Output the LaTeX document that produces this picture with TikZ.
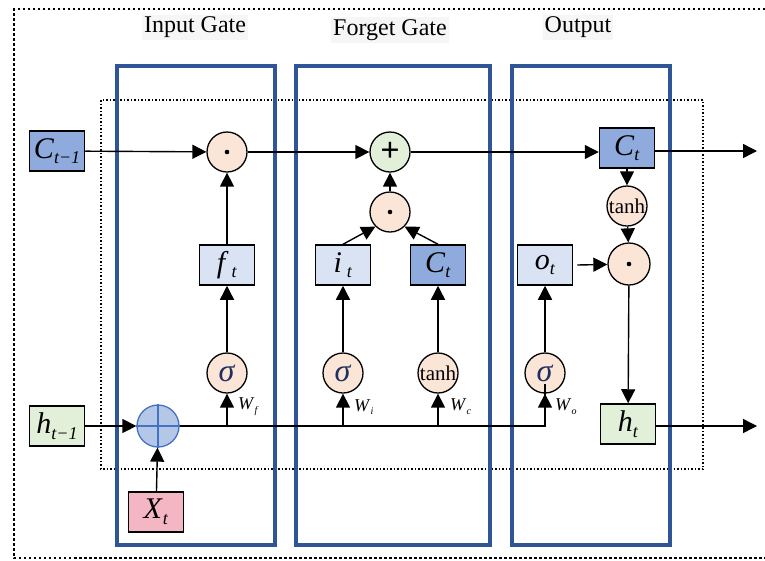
\documentclass[tikz,border=0pt]{standalone}
\usepackage{fontspec}
\setmainfont{Liberation Serif}
\usetikzlibrary{arrows.meta}
\definecolor{cdark}{HTML}{8FAADC}
\definecolor{clight}{HTML}{DAE3F3}
\definecolor{cpeach}{HTML}{FBE5D6}
\definecolor{cgreen}{HTML}{E2F0D9}
\definecolor{cpink}{HTML}{F4B6C2}
\definecolor{cplusf}{HTML}{B4C7E7}
\definecolor{cpluss}{HTML}{4472C4}
\definecolor{cframe}{HTML}{2F5597}
\definecolor{csig}{HTML}{1F2F5F}
\newcommand\vlab[2]{\textit{#1}\raisebox{-0.4ex}{\fontsize{18}{18}\selectfont\textit{#2}}}
\newcommand\wlabel[2]{\textit{#1}\raisebox{-0.45ex}{\fontsize{10}{10}\selectfont\textit{#2}}}
\tikzset{
  box/.style={draw=black, line width=1.5pt, minimum width=55pt, minimum height=40pt, inner sep=0pt, font=\fontsize{30}{30}\selectfont},
  circ/.style={circle, draw=black, line width=1.3pt, fill=cpeach, minimum size=40pt, inner sep=0pt},
  conn/.style={line width=1.4pt, -{Triangle[length=14pt,width=14pt]}},
  plain/.style={line width=1.4pt},
  gate/.style={draw=cframe, line width=4pt},
  title/.style={fill=gray!7, font=\fontsize{24}{26}\selectfont, inner sep=2pt},
  wlab/.style={font=\fontsize{18}{18}\selectfont, anchor=west, inner sep=1pt},
  sig/.style={font=\fontsize{32}{32}\selectfont\color{csig}},
  tanhf/.style={font=\fontsize{21}{21}\selectfont}
}
\begin{document}
\begin{tikzpicture}[x=1pt,y=-1pt]
\useasboundingbox (0,0) rectangle (765,560);
% outer dotted frame
\draw[line width=2.5pt, dash pattern=on 2.5pt off 2.5pt] (765,9) -- (14,9) -- (14,558) -- (765,558);
% inner dotted frame
\draw[line width=1.4pt, dash pattern=on 1.5pt off 2pt] (101,100) rectangle (703,469);
% gate frames
\draw[gate] (117,66) rectangle (275,545);
\draw[gate] (296,66) rectangle (490,545);
\draw[gate] (512,66) rectangle (670,545);
\node[title] (t1) at (195,27) {Input Gate};
\node[title] (t2) at (390,30) {Forget Gate};
\node[title] (t3) at (578,27) {Output};
% nodes
\node[box, fill=cdark] (ctm1) at (57,151) {\vlab{C}{t−1}};
\node[circ] (m1) at (227,152) {};
\fill (m1) circle (2.3pt);
\node[circ, fill=cgreen] (pl) at (390,152) {\fontsize{34}{34}\selectfont\textbf{+}};
\node[box, fill=cdark] (ct) at (627,148) {\vlab{C}{t}};
\coordinate (cout) at (757,151);
\node[box, fill=clight] (ft) at (227,265) {\vlab{f}{\,t}};
\node[circ] (m2) at (390,212) {};
\fill (m2) circle (2.3pt);
\node[box, fill=clight] (it) at (343,265) {\vlab{i}{\;t}};
\node[box, fill=cdark] (ctt) at (438,265) {\vlab{C}{t}};
\node[circ, minimum size=40pt, tanhf] (th1) at (627,206) {tanh};
\node[circ, minimum size=42pt] (m3) at (629,264) {};
\fill (m3) circle (2.3pt);
\node[box, fill=clight] (ot) at (545,265) {\vlab{o}{t}};
\node[circ, sig] (s1) at (227,373) {\textit{σ}};
\node[circ, sig] (s2) at (343,373) {\textit{σ}};
\node[circ, tanhf] (th2) at (438,373) {tanh};
\node[circ, sig] (s3) at (545,373) {\textit{σ}};
\node[box, fill=cgreen] (htm1) at (57,426) {\vlab{h}{t−1}};
\node[circle, draw=cpluss, line width=1.3pt, fill=cplusf, minimum size=42pt, inner sep=0pt] (op) at (158,426) {};
\draw[cpluss, line width=1.3pt] (op.north) -- (op.south) (op.west) -- (op.east);
\node[box, fill=cpink] (xt) at (156,512) {\vlab{X}{t}};
\node[box, fill=cgreen] (ht) at (628,424) {\vlab{h}{t}};
\coordinate (hout) at (757,426);
% connectors top
\draw[conn] (ctm1) -- (m1);
\draw[conn] (m1) -- (pl);
\draw[conn] (pl.east) -- (ct.west |- pl.east);
\draw[conn] (ct.east |- cout) -- (cout);
\draw[conn] (ft) -- (m1);
\draw[conn] (m2) -- (pl);
\draw[conn] (it.north) -- (m2.225);
\draw[conn] (ctt.north) -- (m2.315);
\draw[conn] (ct) -- (th1);
\draw[conn] (th1) -- (m3);
\draw[conn] ([xshift=4pt]ot.east) -- (m3);
\draw[conn] (m3) -- (ht);
\draw[conn] (ht.east |- hout) -- (hout);
\draw[conn] (s1) -- (ft);
\draw[conn] (s2) -- (it);
\draw[conn] (th2) -- (ctt);
\draw[conn] (s3) -- (ot);
% bottom
\draw[conn] (htm1) -- (op);
\draw[conn] (xt) -- (op);
\draw[plain] (op.east) -- (s3.south |- op.east) -- ([yshift=10pt]s3.south);
\draw[conn] (s3.south |- op.east) -- (s3.south);
\draw[conn] (s1.south |- op.east) -- (s1.south);
\draw[conn] (s2.south |- op.east) -- (s2.south);
\draw[conn] (th2.south |- op.east) -- (th2.south);
\node[wlab] (wf) at (237,407) {\wlabel{W}{f}};
\node[wlab] (wi) at (353,407) {\wlabel{W}{i}};
\node[wlab] (wc) at (449,407) {\wlabel{W}{c}};
\node[wlab] (wo) at (554,407) {\wlabel{W}{o}};
\end{tikzpicture}
\end{document}
